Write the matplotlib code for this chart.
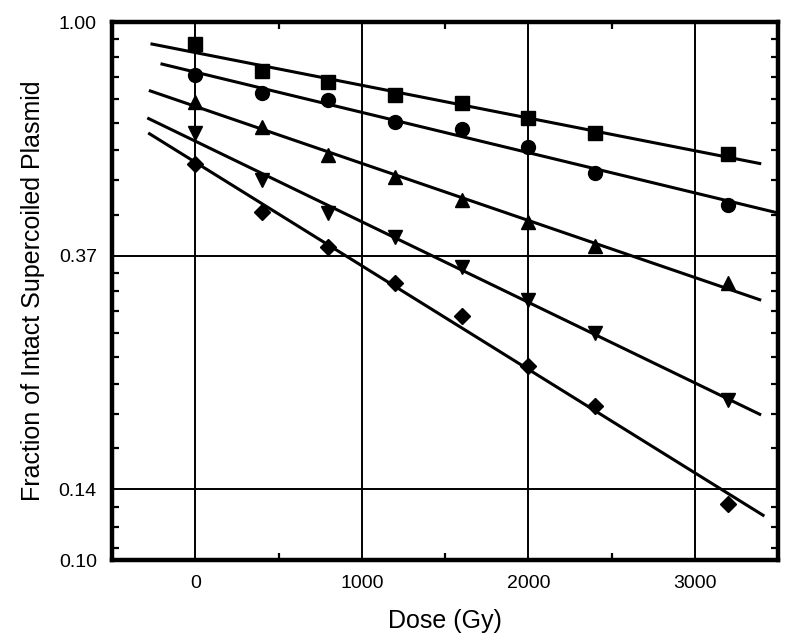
import numpy as np
import matplotlib
matplotlib.use("Agg")
import matplotlib.pyplot as plt
from matplotlib.ticker import FixedLocator, FixedFormatter

plt.rcParams["font.family"] = ["Liberation Sans", "DejaVu Sans"]

# data (dose in Gy, fraction of intact supercoiled plasmid)
dose = [0, 400, 800, 1200, 1600, 2000, 2400, 3200]
frac_square = [0.910, 0.811, 0.774, 0.732, 0.707, 0.663, 0.622, 0.568]
frac_circle = [0.797, 0.738, 0.716, 0.652, 0.633, 0.586, 0.524, 0.457]
frac_tri_up = [0.710, 0.638, 0.566, 0.515, 0.467, 0.425, 0.383, 0.327]
frac_tri_down = [0.622, 0.508, 0.442, 0.399, 0.350, 0.304, 0.264, 0.198]
frac_diamond = [0.545, 0.444, 0.382, 0.327, 0.284, 0.229, 0.193, 0.127]

x_ticks = [0, 1000, 2000, 3000]
y_ticks = [0.10, np.exp(-2), np.exp(-1), 1.0]
y_tick_labels = ["0.10", "0.14", "0.37", "1.00"]

series = [
    (frac_square, "s", 9.5, (-260, 3390)),
    (frac_circle, "o", 10, (-200, 3480)),
    (frac_tri_up, "^", 10.5, (-270, 3390)),
    (frac_tri_down, "v", 10.5, (-280, 3390)),
    (frac_diamond, "D", 8.5, (-275, 3410)),
]

fig = plt.figure(figsize=(7.98, 6.42), dpi=100)
ax = fig.add_axes([0.1404, 0.1277, 0.8346, 0.838])

x = np.array(dose, dtype=float)
for vals, marker, ms, (x0, x1) in series:
    y = np.array(vals)
    slope, icpt = np.polyfit(x, np.log(y), 1)
    xx = np.array([x0, x1])
    ax.plot(xx, np.exp(icpt + slope * xx), color="black", lw=2.2, zorder=3)
    ax.plot(x, y, linestyle="none", marker=marker, ms=ms, color="black", zorder=4)

ax.set_yscale("log")
ax.set_xlim(-500, 3500)
ax.set_ylim(0.10, 1.0)

ax.xaxis.set_major_locator(FixedLocator(x_ticks))
ax.xaxis.set_minor_locator(FixedLocator([500, 1500, 2500]))
ax.yaxis.set_major_locator(FixedLocator(y_ticks))
ax.yaxis.set_major_formatter(FixedFormatter(y_tick_labels))

# minor ticks: linear steps between the e^0, e^-1, e^-2 levels
e1, e2 = np.exp(-1), np.exp(-2)
minor_y = list(np.linspace(e1, 1.0, 10)[1:-1]) + list(np.linspace(e2, e1, 10)[1:-1])
minor_y += [e2 - 0.01, e2 - 0.02, e2 - 0.03]
ax.yaxis.set_minor_locator(FixedLocator(minor_y))
ax.yaxis.set_minor_formatter(FixedFormatter([""] * len(minor_y)))

ax.tick_params(which="both", direction="in", top=True, right=True, labelsize=14, color="black")
ax.tick_params(which="major", length=0, pad=11)
ax.tick_params(which="minor", length=5, width=1.6)

ax.grid(True, which="major", color="black", lw=1.4)
ax.set_axisbelow(True)
for sp in ax.spines.values():
    sp.set_linewidth(3.2)

ax.set_xlabel("Dose (Gy)", fontsize=18, labelpad=12)
ax.set_ylabel("Fraction of Intact Supercoiled Plasmid", fontsize=18, labelpad=10)

fig.savefig("out.png", dpi=100)
